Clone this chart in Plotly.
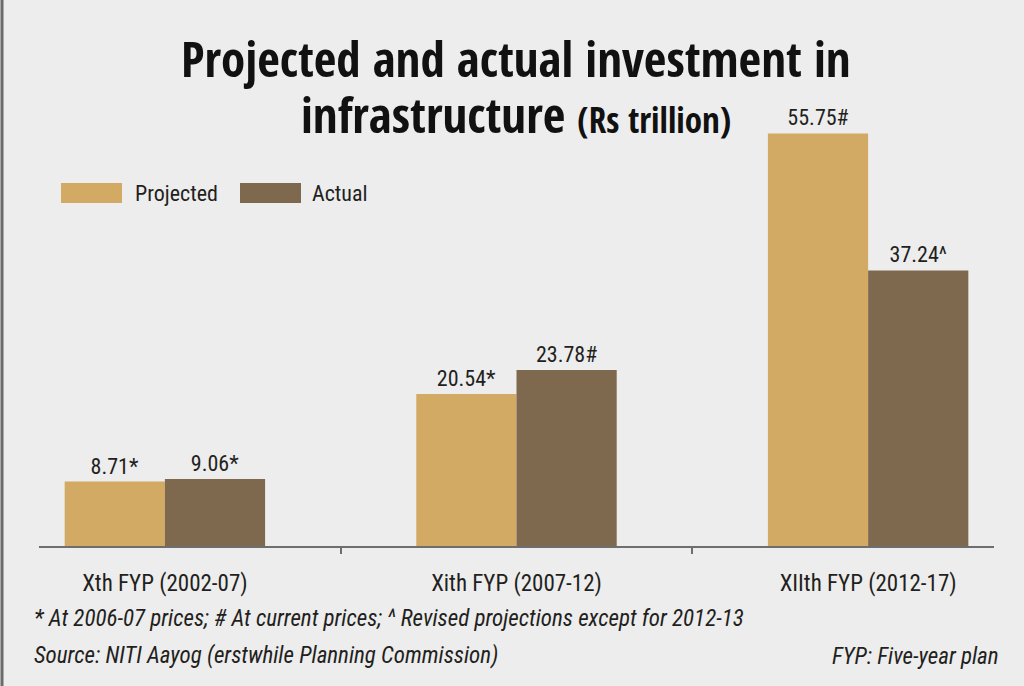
import plotly.graph_objects as go

categories = ["Xth FYP (2002-07)", "Xith FYP (2007-12)", "XIIth FYP (2012-17)"]
projected = [8.71, 20.54, 55.75]
actual = [9.06, 23.78, 37.24]
projected_labels = ["8.71*", "20.54*", "55.75#"]
actual_labels = ["9.06*", "23.78#", "37.24^"]

W, H = 1024, 686
L, R, T, B = 39, 30, 100, 140
PW, PH = W - L - R, H - T - B

def xp(px):
    return (px - L) / PW

def yp(py):
    return (H - B - py) / PH

TAN = "#D2AA64"
BROWN = "#7E684E"
BG = "#EDEDED"
TXT = "#231F20"
FONT = "Roboto Condensed"
TFONT = "Open Sans Condensed"

fig = go.Figure()
fig.add_bar(x=categories, y=projected, name="Projected", marker_color=TAN,
            marker_line_width=0, text=projected_labels, textposition="outside",
            textfont=dict(family=FONT, size=22, color=TXT), cliponaxis=False)
fig.add_bar(x=categories, y=actual, name="Actual", marker_color=BROWN,
            marker_line_width=0, text=actual_labels, textposition="outside",
            textfont=dict(family=FONT, size=22, color=TXT), cliponaxis=False)

annotations = [
    dict(text="<b>Projected and actual investment in</b>", x=xp(516), y=yp(58),
         xref="paper", yref="paper", xanchor="center", yanchor="middle", showarrow=False,
         font=dict(family=TFONT, size=49, color="#111111")),
    dict(text="<b>infrastructure <span style='font-size:35px'>(Rs trillion)</span></b>",
         x=xp(516), y=yp(114), xref="paper", yref="paper", xanchor="center", yanchor="middle",
         showarrow=False, font=dict(family=TFONT, size=49, color="#111111")),
    dict(text="Projected", x=xp(133), y=yp(193), xref="paper", yref="paper",
         xanchor="left", yanchor="middle", showarrow=False,
         font=dict(family=FONT, size=22, color=TXT)),
    dict(text="Actual", x=xp(310), y=yp(193), xref="paper", yref="paper",
         xanchor="left", yanchor="middle", showarrow=False,
         font=dict(family=FONT, size=22, color=TXT)),
    dict(text="<i>* At 2006-07 prices; # At current prices; ^ Revised projections except for 2012-13</i>",
         x=xp(32), y=yp(618), xref="paper", yref="paper", xanchor="left", yanchor="middle",
         showarrow=False, font=dict(family=FONT, size=23, color=TXT)),
    dict(text="<i>Source: NITI Aayog (erstwhile Planning Commission)</i>",
         x=xp(32), y=yp(655), xref="paper", yref="paper", xanchor="left", yanchor="middle",
         showarrow=False, font=dict(family=FONT, size=23, color=TXT)),
    dict(text="<i>FYP: Five-year plan</i>",
         x=xp(1001), y=yp(656), xref="paper", yref="paper", xanchor="right", yanchor="middle",
         showarrow=False, font=dict(family=FONT, size=23, color=TXT)),
]

shapes = [
    dict(type="rect", xref="paper", yref="paper", x0=xp(61), x1=xp(122), y0=yp(203), y1=yp(183),
         fillcolor=TAN, line_width=0),
    dict(type="rect", xref="paper", yref="paper", x0=xp(240), x1=xp(301), y0=yp(203), y1=yp(183),
         fillcolor=BROWN, line_width=0),
    dict(type="line", xref="paper", yref="paper", x0=xp(2), x1=xp(2), y0=yp(0), y1=yp(686),
         line=dict(color="#6B6B6B", width=3)),
]

fig.update_layout(
    width=W, height=H,
    margin=dict(l=L, r=R, t=T, b=B),
    paper_bgcolor=BG, plot_bgcolor=BG,
    barmode="group", bargap=0.43, bargroupgap=0,
    showlegend=False,
    annotations=annotations, shapes=shapes,
    xaxis=dict(range=[-0.358, 2.358], showline=True, linecolor="#6E6E6E", linewidth=2,
               ticks="outside", tickson="boundaries", ticklen=6, tickwidth=1.5,
               tickcolor="#6E6E6E", showgrid=False, zeroline=False,
               tickfont=dict(family=FONT, size=23, color=TXT), ticklabelstandoff=15),
    yaxis=dict(range=[0, PH / 7.40], visible=False, showgrid=False, zeroline=False),
)

fig.write_html("out.html", config={"displayModeBar": False},
               post_script="document.body.style.margin='0';")
